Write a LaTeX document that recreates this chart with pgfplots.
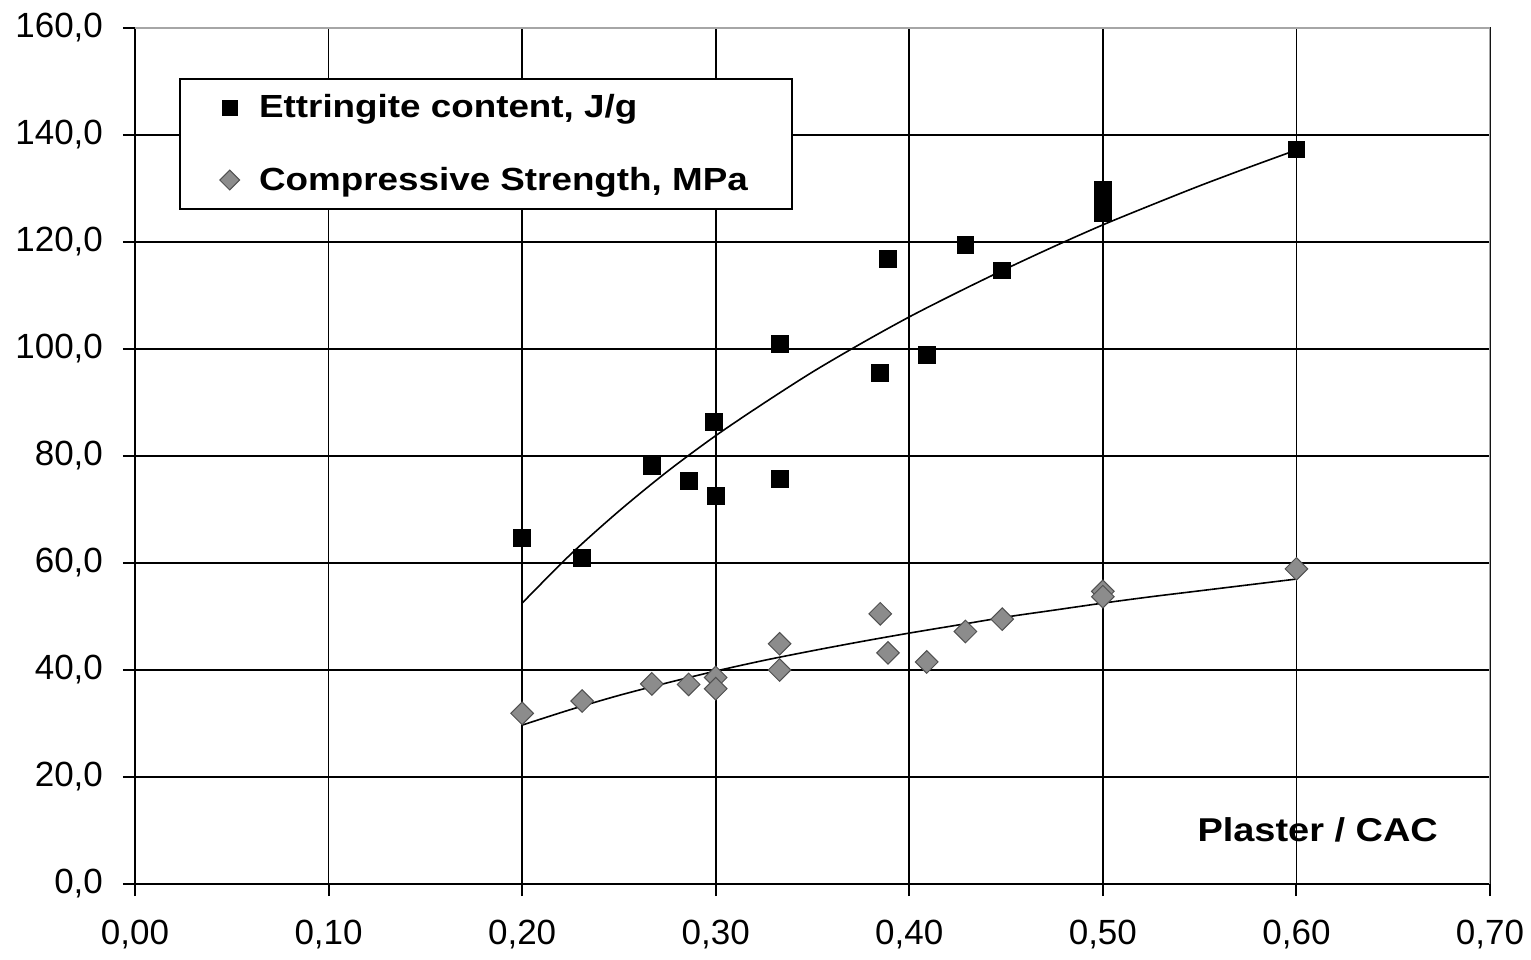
\documentclass[border=0pt]{standalone}
\usepackage{pgfplots}
\pgfplotsset{compat=1.18}
\usepackage{fontspec}
\setmainfont{Liberation Sans}
\newfontfamily\stretchfont[FakeStretch=1.15]{Liberation Sans}
\definecolor{dfill}{HTML}{8C8C8C}
\definecolor{dedge}{HTML}{505050}
\begin{document}
\begin{tikzpicture}
\useasboundingbox (-67.5pt,-37.5pt) rectangle (698pt,442pt);
\begin{axis}[
  at={(0pt,0pt)}, anchor=south west,
  scale only axis, width=677.5pt, height=428pt,
  xmin=0, xmax=0.7, ymin=0, ymax=160,
  xtick={0,0.1,0.2,0.3,0.4,0.5,0.6,0.7},
  ytick={0,20,40,60,80,100,120,140,160},
  grid=major, major grid style={black, line width=0.9pt},
  axis line style={black, line width=1pt},
  tick style={black, line width=1pt},
  tick align=outside, major tick length=6pt, tick pos=left,
  /pgf/number format/.cd, fixed, fixed zerofill, use comma, assume math mode=true,
  /pgfplots/.cd,
  ticklabel style={font=\fontsize{17.5}{20}\selectfont},
  xticklabel style={/pgf/number format/precision=2, yshift=-8.5pt},
  yticklabel style={/pgf/number format/precision=1, xshift=-6.5pt},
  legend style={at={(axis description cs:0.0325,0.9416)}, anchor=north west,
    draw=black, line width=0.8pt,
    font=\stretchfont\fontsize{16}{19}\selectfont\bfseries,
    inner xsep=20pt, inner ysep=6pt, row sep=19pt},
  legend cell align=left,
  legend image code/.code={\path[draw=none] (-4pt,0pt) -- (12.7pt,0pt); \draw[#1, mark size=3.5pt] plot coordinates {(0pt,0pt)};},
]
\addplot[only marks, mark=square*, mark size=4.2pt, black] coordinates {
(0.200,64.7) (0.231,60.9) (0.267,78.1) (0.286,75.3) (0.299,86.3) (0.300,72.5)
(0.333,100.9) (0.333,75.7) (0.385,95.5) (0.389,116.9) (0.409,98.9) (0.429,119.4)
(0.448,114.7) (0.500,129.8) (0.500,127.5) (0.500,125.4) (0.600,137.3)
};
\addlegendentry{Ettringite content, J/g}
\addplot[only marks, mark=square*, mark size=4.0pt, mark options={rotate=45, fill=dfill, draw=dedge, line width=0.5pt}] coordinates {
(0.200,31.9) (0.231,34.2) (0.267,37.4) (0.286,37.3) (0.300,38.6) (0.300,36.5)
(0.333,44.9) (0.333,40.0) (0.385,50.5) (0.389,43.2) (0.409,41.5) (0.429,47.2)
(0.448,49.5) (0.500,54.7) (0.500,53.7) (0.600,58.9)
};
\addlegendentry{Compressive Strength, MPa}
\addplot[black, line width=0.8pt, smooth, forget plot] coordinates {
(0.200,52.5) (0.225,61.6) (0.250,69.7) (0.275,77.1) (0.300,83.8) (0.325,89.9)
(0.350,95.7) (0.375,101.0) (0.400,106.0) (0.425,110.6) (0.450,115.0) (0.475,119.2)
(0.500,123.2) (0.525,126.9) (0.550,130.5) (0.575,133.9) (0.600,137.2)
};
\addplot[black, line width=0.8pt, smooth, forget plot] coordinates {
(0.200,29.7) (0.225,32.6) (0.250,35.25) (0.275,37.6) (0.300,39.8) (0.325,41.8)
(0.350,43.6) (0.375,45.3) (0.400,46.9) (0.425,48.4) (0.450,49.9) (0.475,51.2)
(0.500,52.5) (0.525,53.7) (0.550,54.8) (0.575,55.9) (0.600,57.0)
};
\draw[gray!70, line width=1pt] (rel axis cs:0,1) -- (rel axis cs:1,1) -- (rel axis cs:1,0);
\node[font=\stretchfont\fontsize{16.5}{19}\selectfont\bfseries] at (axis cs:0.611,10.1) {Plaster / CAC};
\end{axis}
\end{tikzpicture}
\end{document}
